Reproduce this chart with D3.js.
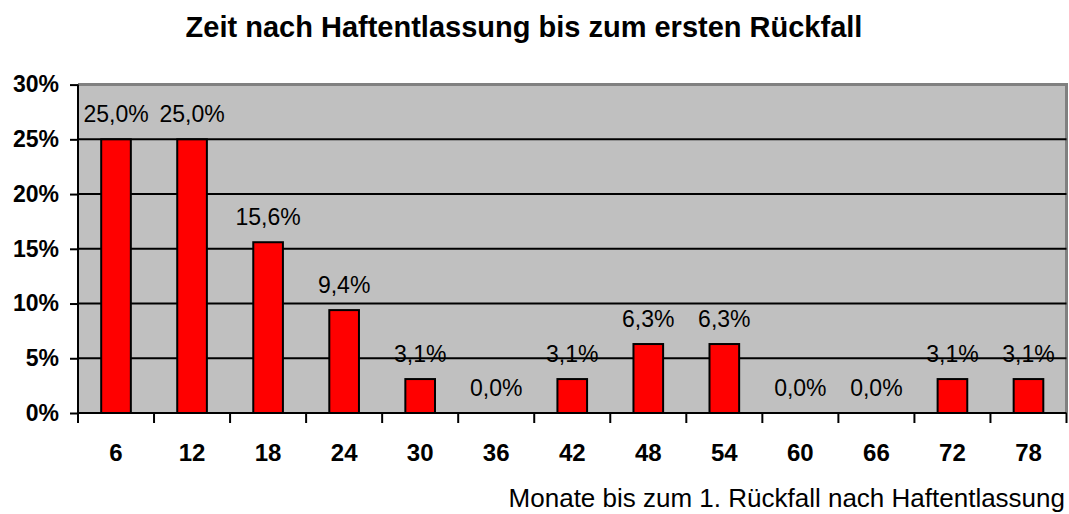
<!DOCTYPE html>
<html>
<head>
<meta charset="utf-8">
<script src="https://cdn.jsdelivr.net/npm/d3@7"></script>
<style>
  body { margin: 0; background: #fff; }
  svg { font-family: Arial, "Liberation Sans", sans-serif; }
</style>
</head>
<body>
<div id="chart"></div>
<script>
const months = ["6", "12", "18", "24", "30", "36", "42", "48", "54", "60", "66", "72", "78"];
const shares = [25.0, 25.0, 15.6, 9.4, 3.1, 0.0, 3.1, 6.3, 6.3, 0.0, 0.0, 3.1, 3.1];
const yTicks = [0, 5, 10, 15, 20, 25, 30];

const W = 1069, H = 514;
const margin = {top: 84.6, right: 2.5, bottom: 101, left: 78};
const width = W - margin.left - margin.right;
const height = H - margin.top - margin.bottom;

const svg = d3.select("#chart").append("svg")
    .attr("width", W)
    .attr("height", H);

svg.append("text")
    .attr("x", 524)
    .attr("y", 37)
    .attr("text-anchor", "middle")
    .style("font-size", "29px")
    .style("font-weight", "bold")
    .text("Zeit nach Haftentlassung bis zum ersten Rückfall");

const g = svg.append("g").attr("transform", `translate(${margin.left},${margin.top})`);

const x = d3.scaleBand().domain(months).range([0, width]).paddingInner(0.61).paddingOuter(0.305);
const xOuter = d3.scaleBand().domain(months).range([0, width]);
const y = d3.scaleLinear().domain([0, 30]).range([height, 0]);

// plot background
g.append("rect")
    .attr("width", width)
    .attr("height", height)
    .attr("fill", "#c0c0c0");

// border top/right
g.append("path")
    .attr("d", `M0,0H${width}V${height}`)
    .attr("fill", "none")
    .attr("stroke", "#808080")
    .attr("stroke-width", 3);

// gridlines
g.selectAll(".grid")
    .data(yTicks.slice(1, -1))
    .enter().append("line")
    .attr("x1", 0).attr("x2", width)
    .attr("y1", d => y(d)).attr("y2", d => y(d))
    .attr("stroke", "#000")
    .attr("stroke-width", 2);

// bars
g.selectAll(".bar")
    .data(shares)
    .enter().append("rect")
    .attr("x", (d, i) => x(months[i]))
    .attr("y", d => y(d))
    .attr("width", x.bandwidth())
    .attr("height", d => height - y(d))
    .attr("fill", "#ff0000")
    .attr("stroke", "#000")
    .attr("stroke-width", 2);

// value labels
g.selectAll(".lbl")
    .data(shares)
    .enter().append("text")
    .attr("x", (d, i) => x(months[i]) + x.bandwidth() / 2)
    .attr("y", d => y(d) - 17)
    .attr("text-anchor", "middle")
    .style("font-size", "23px")
    .text(d => d.toFixed(1).replace(".", ",") + "%");

// y axis
const yAxis = g.append("g")
    .call(d3.axisLeft(y).tickValues(yTicks).tickSize(8).tickPadding(11).tickFormat(d => d + "%"));
yAxis.select(".domain").attr("stroke-width", 2).attr("d", `M0,0V${height + 10}`);
yAxis.selectAll(".tick line").attr("stroke-width", 2);
yAxis.selectAll(".tick text").style("font-size", "23px").style("font-weight", "bold").attr("fill", "#000");

// x axis
const xAxis = g.append("g")
    .attr("transform", `translate(0,${height})`)
    .call(d3.axisBottom(xOuter).tickSize(0).tickPadding(31));
xAxis.select(".domain").attr("stroke-width", 2).attr("d", `M0,0H${width}`);
xAxis.selectAll(".tick text").style("font-size", "24px").style("font-weight", "bold").attr("fill", "#000");
xAxis.selectAll(".sep")
    .data(d3.range(1, months.length + 1))
    .enter().append("line")
    .attr("x1", i => i * xOuter.step()).attr("x2", i => i * xOuter.step())
    .attr("y1", 0).attr("y2", 10)
    .attr("stroke", "#000")
    .attr("stroke-width", 2);

svg.append("text")
    .attr("x", 1065)
    .attr("y", 507)
    .attr("text-anchor", "end")
    .style("font-size", "26px")
    .text("Monate bis zum 1. Rückfall nach Haftentlassung");
</script>
</body>
</html>
